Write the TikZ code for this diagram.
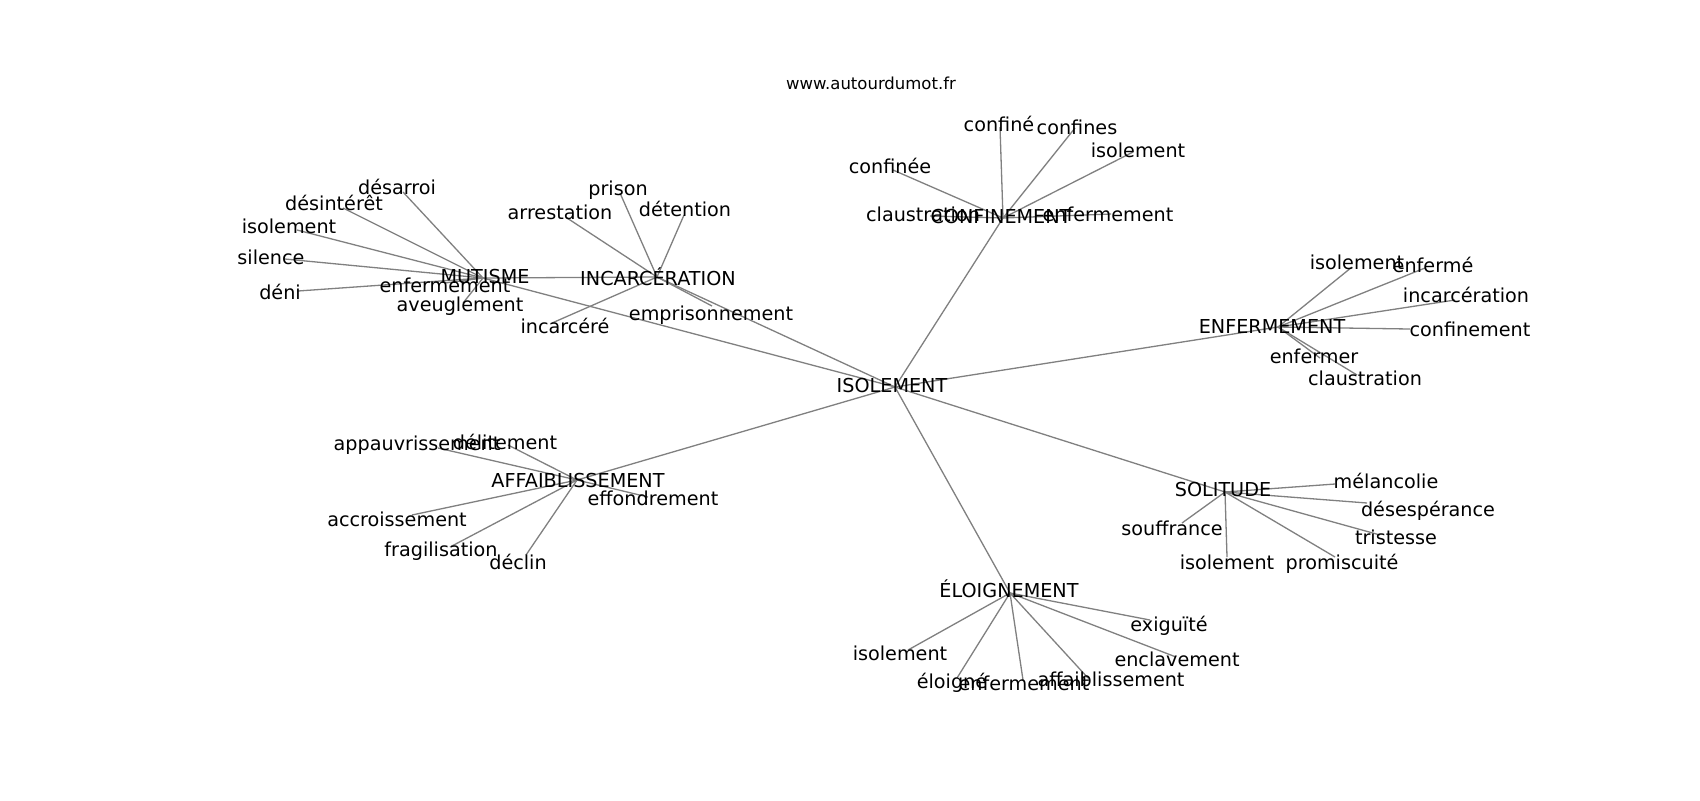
\documentclass[tikz,border=0pt]{standalone}
\usepackage{fontspec}
\setmainfont{DejaVu Sans}
\definecolor{edgegray}{HTML}{808080}
\begin{document}
\begin{tikzpicture}[x=0.5pt,y=-0.5pt,
  lbl/.style={inner sep=0pt, text height=0.76em, text depth=0pt, font=\fontsize{9.6}{11}\selectfont, text=black},
  ttl/.style={inner sep=0pt, text height=0.76em, text depth=0pt, font=\fontsize{8.25}{10}\selectfont, text=black},
  link/.style={draw=edgegray, line width=0.65pt}]
\useasboundingbox[fill=white] (0,0) rectangle (1700,800);
% hub positions
\coordinate (pIso) at (895,387);
\coordinate (pConf) at (1003,218);
\coordinate (pEnf) at (1278,327);
\coordinate (pSol) at (1225,492);
\coordinate (pElo) at (1010,593);
\coordinate (pAff) at (577,480);
\coordinate (pMut) at (483,278);
\coordinate (pInc) at (657,277);
% leaf positions
\coordinate (cConfine) at (1000,127);
\coordinate (cConfines) at (1075,128);
\coordinate (cIsoC) at (1133,152);
\coordinate (cConfinee) at (893,170);
\coordinate (cClauC) at (930,216);
\coordinate (cEnfC) at (1111,214);
\coordinate (cIsoE) at (1352,267);
\coordinate (cEnferme) at (1425,268);
\coordinate (cIncarceration) at (1455,300);
\coordinate (cConfinement) at (1410,329);
\coordinate (cEnfermer) at (1320,358);
\coordinate (cClauE) at (1357,375);
\coordinate (cMelan) at (1335,484);
\coordinate (cDesesp) at (1367,503);
\coordinate (cTrist) at (1380,535);
\coordinate (cPromis) at (1335,557);
\coordinate (cIsoS) at (1227,557);
\coordinate (cSouff) at (1182,523);
\coordinate (cExig) at (1150,620);
\coordinate (cEnclav) at (1176,657);
\coordinate (cAffE) at (1088,678);
\coordinate (cEnfE) at (1023,680);
\coordinate (cEloigne) at (957,678);
\coordinate (cIsoEl) at (908,650);
\coordinate (cDelit) at (508,445);
\coordinate (cAppauv) at (438,448);
\coordinate (cEffond) at (648,497);
\coordinate (cAccr) at (412,515);
\coordinate (cFragil) at (450,547);
\coordinate (cDeclin) at (526,555);
\coordinate (cDesarroi) at (403,192);
\coordinate (cDesint) at (343,208);
\coordinate (cIsoM) at (297,230);
\coordinate (cSilence) at (285,259);
\coordinate (cDeni) at (298,291);
\coordinate (cEnfM) at (445,283);
\coordinate (cAveugl) at (463,303);
\coordinate (cPrison) at (620,193);
\coordinate (cDetent) at (684,215);
\coordinate (cArrest) at (567,218);
\coordinate (cIncarcere) at (552,323);
\coordinate (cEmpris) at (712,306);
% edges
\draw[link] (pIso) -- (pConf);
\draw[link] (pIso) -- (pEnf);
\draw[link] (pIso) -- (pSol);
\draw[link] (pIso) -- (pElo);
\draw[link] (pIso) -- (pAff);
\draw[link] (pIso) -- (pMut);
\draw[link] (pIso) -- (pInc);
\draw[link] (pMut) -- (pInc);
\foreach \c in {cConfine,cConfines,cIsoC,cConfinee,cClauC,cEnfC} \draw[link] (pConf) -- (\c);
\foreach \c in {cIsoE,cEnferme,cIncarceration,cConfinement,cEnfermer,cClauE} \draw[link] (pEnf) -- (\c);
\foreach \c in {cMelan,cDesesp,cTrist,cPromis,cIsoS,cSouff} \draw[link] (pSol) -- (\c);
\foreach \c in {cExig,cEnclav,cAffE,cEnfE,cEloigne,cIsoEl} \draw[link] (pElo) -- (\c);
\foreach \c in {cDelit,cAppauv,cEffond,cAccr,cFragil,cDeclin} \draw[link] (pAff) -- (\c);
\foreach \c in {cDesarroi,cDesint,cIsoM,cSilence,cDeni,cEnfM,cAveugl} \draw[link] (pMut) -- (\c);
\foreach \c in {cPrison,cDetent,cArrest,cIncarcere,cEmpris} \draw[link] (pInc) -- (\c);
% labels
\node[ttl] (title) at (871,82) {www.autourdumot.fr};
\node[lbl] (tIso) at (892,385) {ISOLEMENT};
\node[lbl] (tConf) at (1001,216) {CONFINEMENT};
\node[lbl] (tConfine) at (999,124) {confiné};
\node[lbl] (tConfines) at (1077,127) {confines};
\node[lbl] (tIsoC) at (1138,150) {isolement};
\node[lbl] (tConfinee) at (890,166) {confinée};
\node[lbl] (tClauC) at (923,214) {claustration};
\node[lbl] (tEnfC) at (1108,214) {enfermement};
\node[lbl] (tEnf) at (1272,326) {ENFERMEMENT};
\node[lbl] (tIsoE) at (1357,262) {isolement};
\node[lbl] (tEnferme) at (1433,265) {enfermé};
\node[lbl] (tIncarceration) at (1466,295) {incarcération};
\node[lbl] (tConfinement) at (1470,329) {confinement};
\node[lbl] (tEnfermer) at (1314,356) {enfermer};
\node[lbl] (tClauE) at (1365,378) {claustration};
\node[lbl] (tSol) at (1223,489) {SOLITUDE};
\node[lbl] (tMelan) at (1386,481) {mélancolie};
\node[lbl] (tDesesp) at (1428,509) {désespérance};
\node[lbl] (tTrist) at (1396,537) {tristesse};
\node[lbl] (tPromis) at (1342,562) {promiscuité};
\node[lbl] (tIsoS) at (1227,562) {isolement};
\node[lbl] (tSouff) at (1172,528) {souffrance};
\node[lbl] (tElo) at (1009,590) {ÉLOIGNEMENT};
\node[lbl] (tExig) at (1169,624) {exiguïté};
\node[lbl] (tEnclav) at (1177,659) {enclavement};
\node[lbl] (tAffE) at (1111,679) {affaiblissement};
\node[lbl] (tEnfE) at (1024,683) {enfermement};
\node[lbl] (tEloigne) at (952,681) {éloigné};
\node[lbl] (tIsoEl) at (900,653) {isolement};
\node[lbl] (tAff) at (578,480) {AFFAIBLISSEMENT};
\node[lbl] (tDelit) at (505,442) {délitement};
\node[lbl] (tAppauv) at (417,443) {appauvrissement};
\node[lbl] (tEffond) at (653,498) {effondrement};
\node[lbl] (tAccr) at (397,519) {accroissement};
\node[lbl] (tFragil) at (441,549) {fragilisation};
\node[lbl] (tDeclin) at (518,562) {déclin};
\node[lbl] (tMut) at (485,276) {MUTISME};
\node[lbl] (tDesarroi) at (397,187) {désarroi};
\node[lbl] (tDesint) at (334,203) {désintérêt};
\node[lbl] (tIsoM) at (289,226) {isolement};
\node[lbl] (tSilence) at (271,257) {silence};
\node[lbl] (tDeni) at (280,292) {déni};
\node[lbl] (tEnfM) at (445,285) {enfermement};
\node[lbl] (tAveugl) at (460,304) {aveuglement};
\node[lbl] (tInc) at (658,278) {INCARCÉRATION};
\node[lbl] (tPrison) at (618,188) {prison};
\node[lbl] (tDetent) at (685,209) {détention};
\node[lbl] (tArrest) at (560,212) {arrestation};
\node[lbl] (tIncarcere) at (565,326) {incarcéré};
\node[lbl] (tEmpris) at (711,313) {emprisonnement};
\end{tikzpicture}
\end{document}
